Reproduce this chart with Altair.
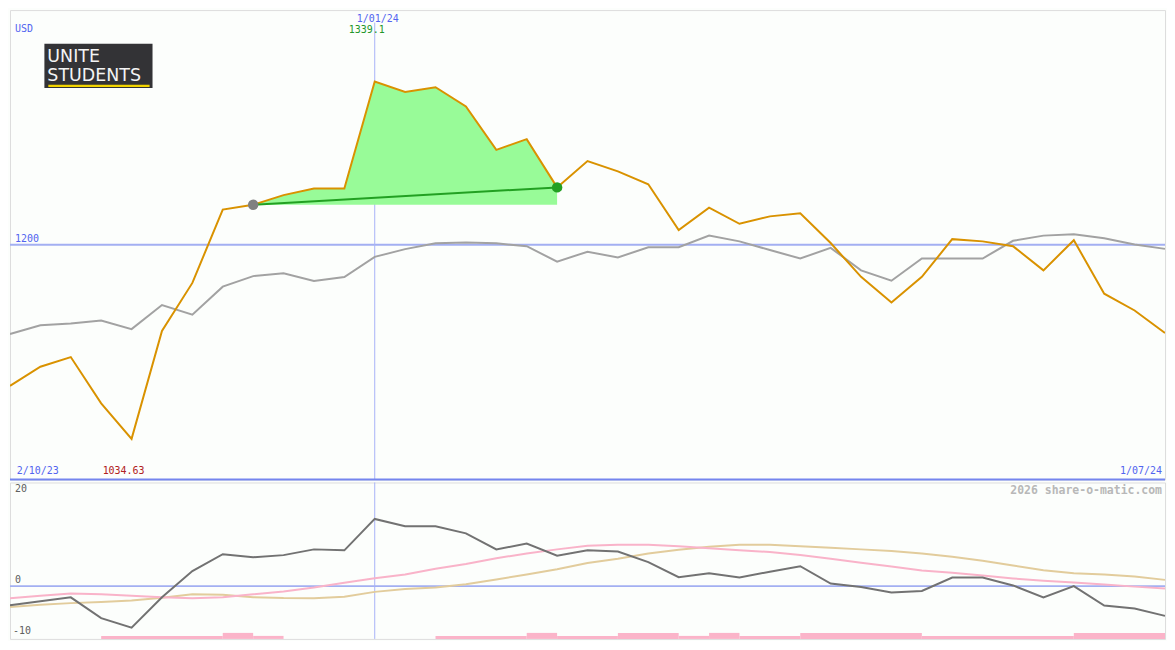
import altair as alt
import pandas as pd

# ---------------- data (weekly) ----------------
dates = pd.date_range("2023-10-09", periods=39, freq="7D")

price = [1079.7, 1096.1, 1104.3, 1064.9, 1034.63, 1126.5, 1167.5, 1230.0, 1234.1, 1242.3,
         1248.0, 1248.0, 1339.1, 1330.2, 1334.3, 1317.9, 1280.9, 1290.0, 1248.9, 1271.3,
         1262.6, 1251.6, 1212.5, 1231.6, 1217.9, 1224.2, 1226.9, 1201.5, 1172.7, 1150.9,
         1172.7, 1204.8, 1202.9, 1198.8, 1178.2, 1203.9, 1158.3, 1144.0, 1124.8]
compare = [1124.0, 1131.4, 1133.0, 1135.5, 1128.1, 1148.6, 1140.4, 1164.3, 1173.3, 1175.8,
           1169.2, 1172.5, 1189.7, 1196.3, 1201.2, 1202.0, 1201.2, 1198.8, 1185.6, 1194.1,
           1189.2, 1197.9, 1197.9, 1207.8, 1202.9, 1195.5, 1188.3, 1197.4, 1178.2, 1169.4,
           1188.3, 1188.3, 1188.3, 1203.4, 1207.8, 1208.9, 1205.6, 1200.2, 1196.5]
momentum = [-4.21, -3.31, -2.46, -7.01, -9.12, -2.46, 3.31, 7.01, 6.32, 6.8,
            8.06, 7.85, 14.74, 13.12, 13.12, 11.58, 8.06, 9.33, 6.67, 7.85,
            7.58, 5.26, 1.96, 2.8, 1.89, 3.16, 4.36, 0.57, -0.21, -1.41,
            -1.05, 1.89, 1.89, 0.15, -2.46, 0.0, -4.27, -4.91, -6.53]
pink_ma = [-2.67, -2.11, -1.62, -1.79, -2.11, -2.42, -2.67, -2.42, -1.79, -1.16,
           -0.32, 0.74, 1.75, 2.53, 3.79, 4.84, 6.11, 7.16, 8.06, 8.84,
           9.05, 9.05, 8.74, 8.32, 7.89, 7.47, 6.84, 6.0, 5.12, 4.32,
           3.43, 2.91, 2.32, 1.68, 1.16, 0.78, 0.36, -0.11, -0.53]
tan_ma = [-4.57, -4.11, -3.73, -3.47, -3.16, -2.53, -1.79, -1.89, -2.42, -2.63,
          -2.67, -2.32, -1.26, -0.63, -0.32, 0.42, 1.47, 2.53, 3.68, 5.05,
          6.0, 7.16, 8.0, 8.63, 9.05, 9.05, 8.74, 8.42, 8.06, 7.68,
          7.16, 6.42, 5.58, 4.53, 3.47, 2.84, 2.53, 2.11, 1.37]
bar_level = [0, 0, 0, 1, 1, 1, 1, 2, 1, 0,
             0, 0, 0, 0, 1, 1, 1, 2, 1, 1,
             2, 2, 1, 2, 1, 1, 2, 2, 2, 2,
             1, 1, 1, 1, 1, 2, 2, 2]

highlight_start, highlight_end = 8, 18
marker_date = pd.Timestamp("2024-01-01")
price_ticks = [1200]
osc_ticks = [20, 0]
osc_low_tick = [-10]

# ---------------- layout ----------------
W, H1, H2 = 1159, 471, 157
sx, sy = W / 1175, (H1 + H2) / 650
MONO = "DejaVu Sans Mono"
BLUE_TXT = "#5264f0"

df = pd.DataFrame({"date": dates, "price": price, "compare": compare,
                   "mom": momentum, "pink": pink_ma, "tan": tan_ma})
df_fill = df.iloc[highlight_start:highlight_end + 1].copy()
df_fill["base"] = price[highlight_start]
df_pts = df.iloc[[highlight_start, highlight_end]].copy()
df_pts["kind"] = ["start", "end"]

# merge consecutive weeks of equal level into single segments (avoids hairline gaps)
segs = []
i = 0
while i < len(bar_level):
    j = i
    while j + 1 < len(bar_level) and bar_level[j + 1] == bar_level[i]:
        j += 1
    if bar_level[i] > 0:
        segs.append({"start": dates[i], "end": dates[j + 1], "level": bar_level[i]})
    i = j + 1
df_bars = pd.DataFrame(segs)

df_marker = pd.DataFrame({"d": [marker_date],
                          "top": [f"{marker_date.day}/{marker_date.month:02d}/{marker_date.strftime('%y')}"],
                          "val": [f"{max(price):.1f}"]})
df_min = pd.DataFrame({"d": [dates[price.index(min(price))]], "t": [f"{min(price):.2f}"]})
one = pd.DataFrame({"a": [0]})

xs = alt.Scale(domain=[alt.DateTime(year=2023, month=10, date=9),
                       alt.DateTime(year=2024, month=7, date=1)])
yt = alt.Scale(domain=[1000, 1400])
yb = alt.Scale(domain=[-11.58, 22.74])
ybar = alt.Scale(domain=[0, 52])


def X(f):
    return alt.X(f, type="temporal", scale=xs, axis=None)


def YT(f):
    return alt.Y(f, type="quantitative", scale=yt, axis=None)


def YB(f):
    return alt.Y(f, type="quantitative", scale=yb, axis=None)


# ---------------- top panel ----------------
rule1200 = alt.Chart(pd.DataFrame({"v": price_ticks})).mark_rule(
    color="#a3aff2", strokeWidth=2).encode(y=YT("v"))
vline_top = alt.Chart(df_marker).mark_rule(color="#a8b4f8", strokeWidth=1).encode(
    x=X("d"), y=alt.value(13 * sy), y2=alt.value(H1))
gray = alt.Chart(df).mark_line(color="#a2a2a2", strokeWidth=2, clip=True).encode(
    x=X("date"), y=YT("compare"))
fill = alt.Chart(df_fill).mark_area(color="#98fb98", opacity=1).encode(
    x=X("date"), y=YT("price"), y2="base:Q")
orange = alt.Chart(df).mark_line(color="#d99200", strokeWidth=2, clip=True).encode(
    x=X("date"), y=YT("price"))
gline = alt.Chart(df_pts).mark_line(color="#22a022", strokeWidth=2).encode(
    x=X("date"), y=YT("price"))
dots = alt.Chart(df_pts).mark_point(filled=True, size=110, opacity=1).encode(
    x=X("date"), y=YT("price"),
    color=alt.Color("kind:N", scale=alt.Scale(domain=["start", "end"],
                                              range=["#808080", "#22a022"]), legend=None))
sep = alt.Chart(pd.DataFrame({"v": [1000]})).mark_rule(color="#7585ee", strokeWidth=2).encode(
    y=YT("v"))

t_usd = alt.Chart(one).mark_text(text="USD", font=MONO, fontSize=10, color=BLUE_TXT,
                                 align="left", baseline="middle").encode(
    x=alt.value(5 * sx), y=alt.value(20 * sy))
t_date = alt.Chart(df_marker).mark_text(font=MONO, fontSize=10, color=BLUE_TXT,
                                        align="center", baseline="middle", dx=3).encode(
    x=X("d"), y=alt.value(9 * sy), text="top:N")
t_max = alt.Chart(df_marker).mark_text(font=MONO, fontSize=10, color="#22962a",
                                       align="center", baseline="middle", dx=-8).encode(
    x=X("d"), y=alt.value(21 * sy), text="val:N")
t_1200 = alt.Chart(pd.DataFrame({"v": price_ticks})).mark_text(
    font=MONO, fontSize=10, color=BLUE_TXT, align="left", baseline="middle", dy=-6).encode(
    x=alt.value(5 * sx), y=YT("v"), text="v:N")
t_start = alt.Chart(one).mark_text(text="2/10/23", font=MONO, fontSize=10, color=BLUE_TXT,
                                   align="left", baseline="middle").encode(
    x=alt.value(7 * sx), y=alt.value(479 * sy))
t_min = alt.Chart(df_min).mark_text(font=MONO, fontSize=10, color="#b02020",
                                    align="center", baseline="middle", dx=-8).encode(
    x=X("d"), y=alt.value(479 * sy), text="t:N")
t_end = alt.Chart(one).mark_text(text="1/07/24", font=MONO, fontSize=10, color=BLUE_TXT,
                                 align="right", baseline="middle").encode(
    x=alt.value(W - 3), y=alt.value(479 * sy))

logo_box = alt.Chart(one).mark_rect(color="#333336").encode(
    x=alt.value(35 * sx), x2=alt.value(145 * sx), y=alt.value(35 * sy), y2=alt.value(81 * sy))
logo_line = alt.Chart(one).mark_rect(color="#f2d400").encode(
    x=alt.value(39 * sx), x2=alt.value(142 * sx), y=alt.value(77.5 * sy), y2=alt.value(80 * sy))
logo_t1 = alt.Chart(one).mark_text(text="UNITE", font="DejaVu Sans", fontSize=17.5, color="#f4f4f4",
                                   align="left", baseline="alphabetic").encode(
    x=alt.value(38 * sx), y=alt.value(53.5 * sy))
logo_t2 = alt.Chart(one).mark_text(text="STUDENTS", font="DejaVu Sans", fontSize=17.5, color="#f4f4f4",
                                   align="left", baseline="alphabetic").encode(
    x=alt.value(38 * sx), y=alt.value(73.5 * sy))

top = alt.layer(rule1200, vline_top, gray, fill, orange, gline, dots, sep,
                t_usd, t_date, t_max, t_1200, t_start, t_min, t_end,
                logo_box, logo_line, logo_t1, logo_t2).properties(width=W, height=H1)

# ---------------- bottom panel ----------------
zero = alt.Chart(pd.DataFrame({"v": [0]})).mark_rule(color="#a3aff2", strokeWidth=2).encode(
    y=YB("v"))
vline_bot = alt.Chart(df_marker).mark_rule(color="#a8b4f8", strokeWidth=1).encode(x=X("d"))
bars = alt.Chart(df_bars).mark_rect(color="#fbb4c9").encode(
    x=X("start"), x2="end:T",
    y=alt.Y("level:Q", scale=ybar, axis=None), y2=alt.value(H2))
tan = alt.Chart(df).mark_line(color="#e2cc9c", strokeWidth=2, clip=True).encode(
    x=X("date"), y=YB("tan"))
pink = alt.Chart(df).mark_line(color="#f9b3c9", strokeWidth=2, clip=True).encode(
    x=X("date"), y=YB("pink"))
mom = alt.Chart(df).mark_line(color="#727272", strokeWidth=2, clip=True).encode(
    x=X("date"), y=YB("mom"))
t_osc = alt.Chart(pd.DataFrame({"v": osc_ticks})).mark_text(
    font=MONO, fontSize=10, color="#606060", align="left", baseline="middle", dy=-6).encode(
    x=alt.value(5 * sx), y=YB("v"), text="v:N")
t_osc_low = alt.Chart(pd.DataFrame({"v": osc_low_tick})).mark_text(
    font=MONO, fontSize=10, color="#606060", align="left", baseline="middle", dy=-1).encode(
    x=alt.value(3 * sx), y=YB("v"), text="v:N")
t_credit = alt.Chart(one).mark_text(text="2026 share-o-matic.com", font=MONO, fontSize=11.5,
                                    fontWeight="bold", color="#b8b8b8",
                                    align="right", baseline="middle").encode(
    x=alt.value(W - 3), y=alt.value(9 * sy))

bottom = alt.layer(zero, vline_bot, bars, tan, pink, mom, t_osc, t_osc_low, t_credit).resolve_scale(
    y="independent").properties(width=W, height=H2)

chart = alt.vconcat(top, bottom, spacing=0).properties(padding=0).configure_view(
    strokeWidth=0, stroke="transparent").configure(background="#fcfefc")

chart.save("out.html", embed_options={"renderer": "svg", "actions": False})
